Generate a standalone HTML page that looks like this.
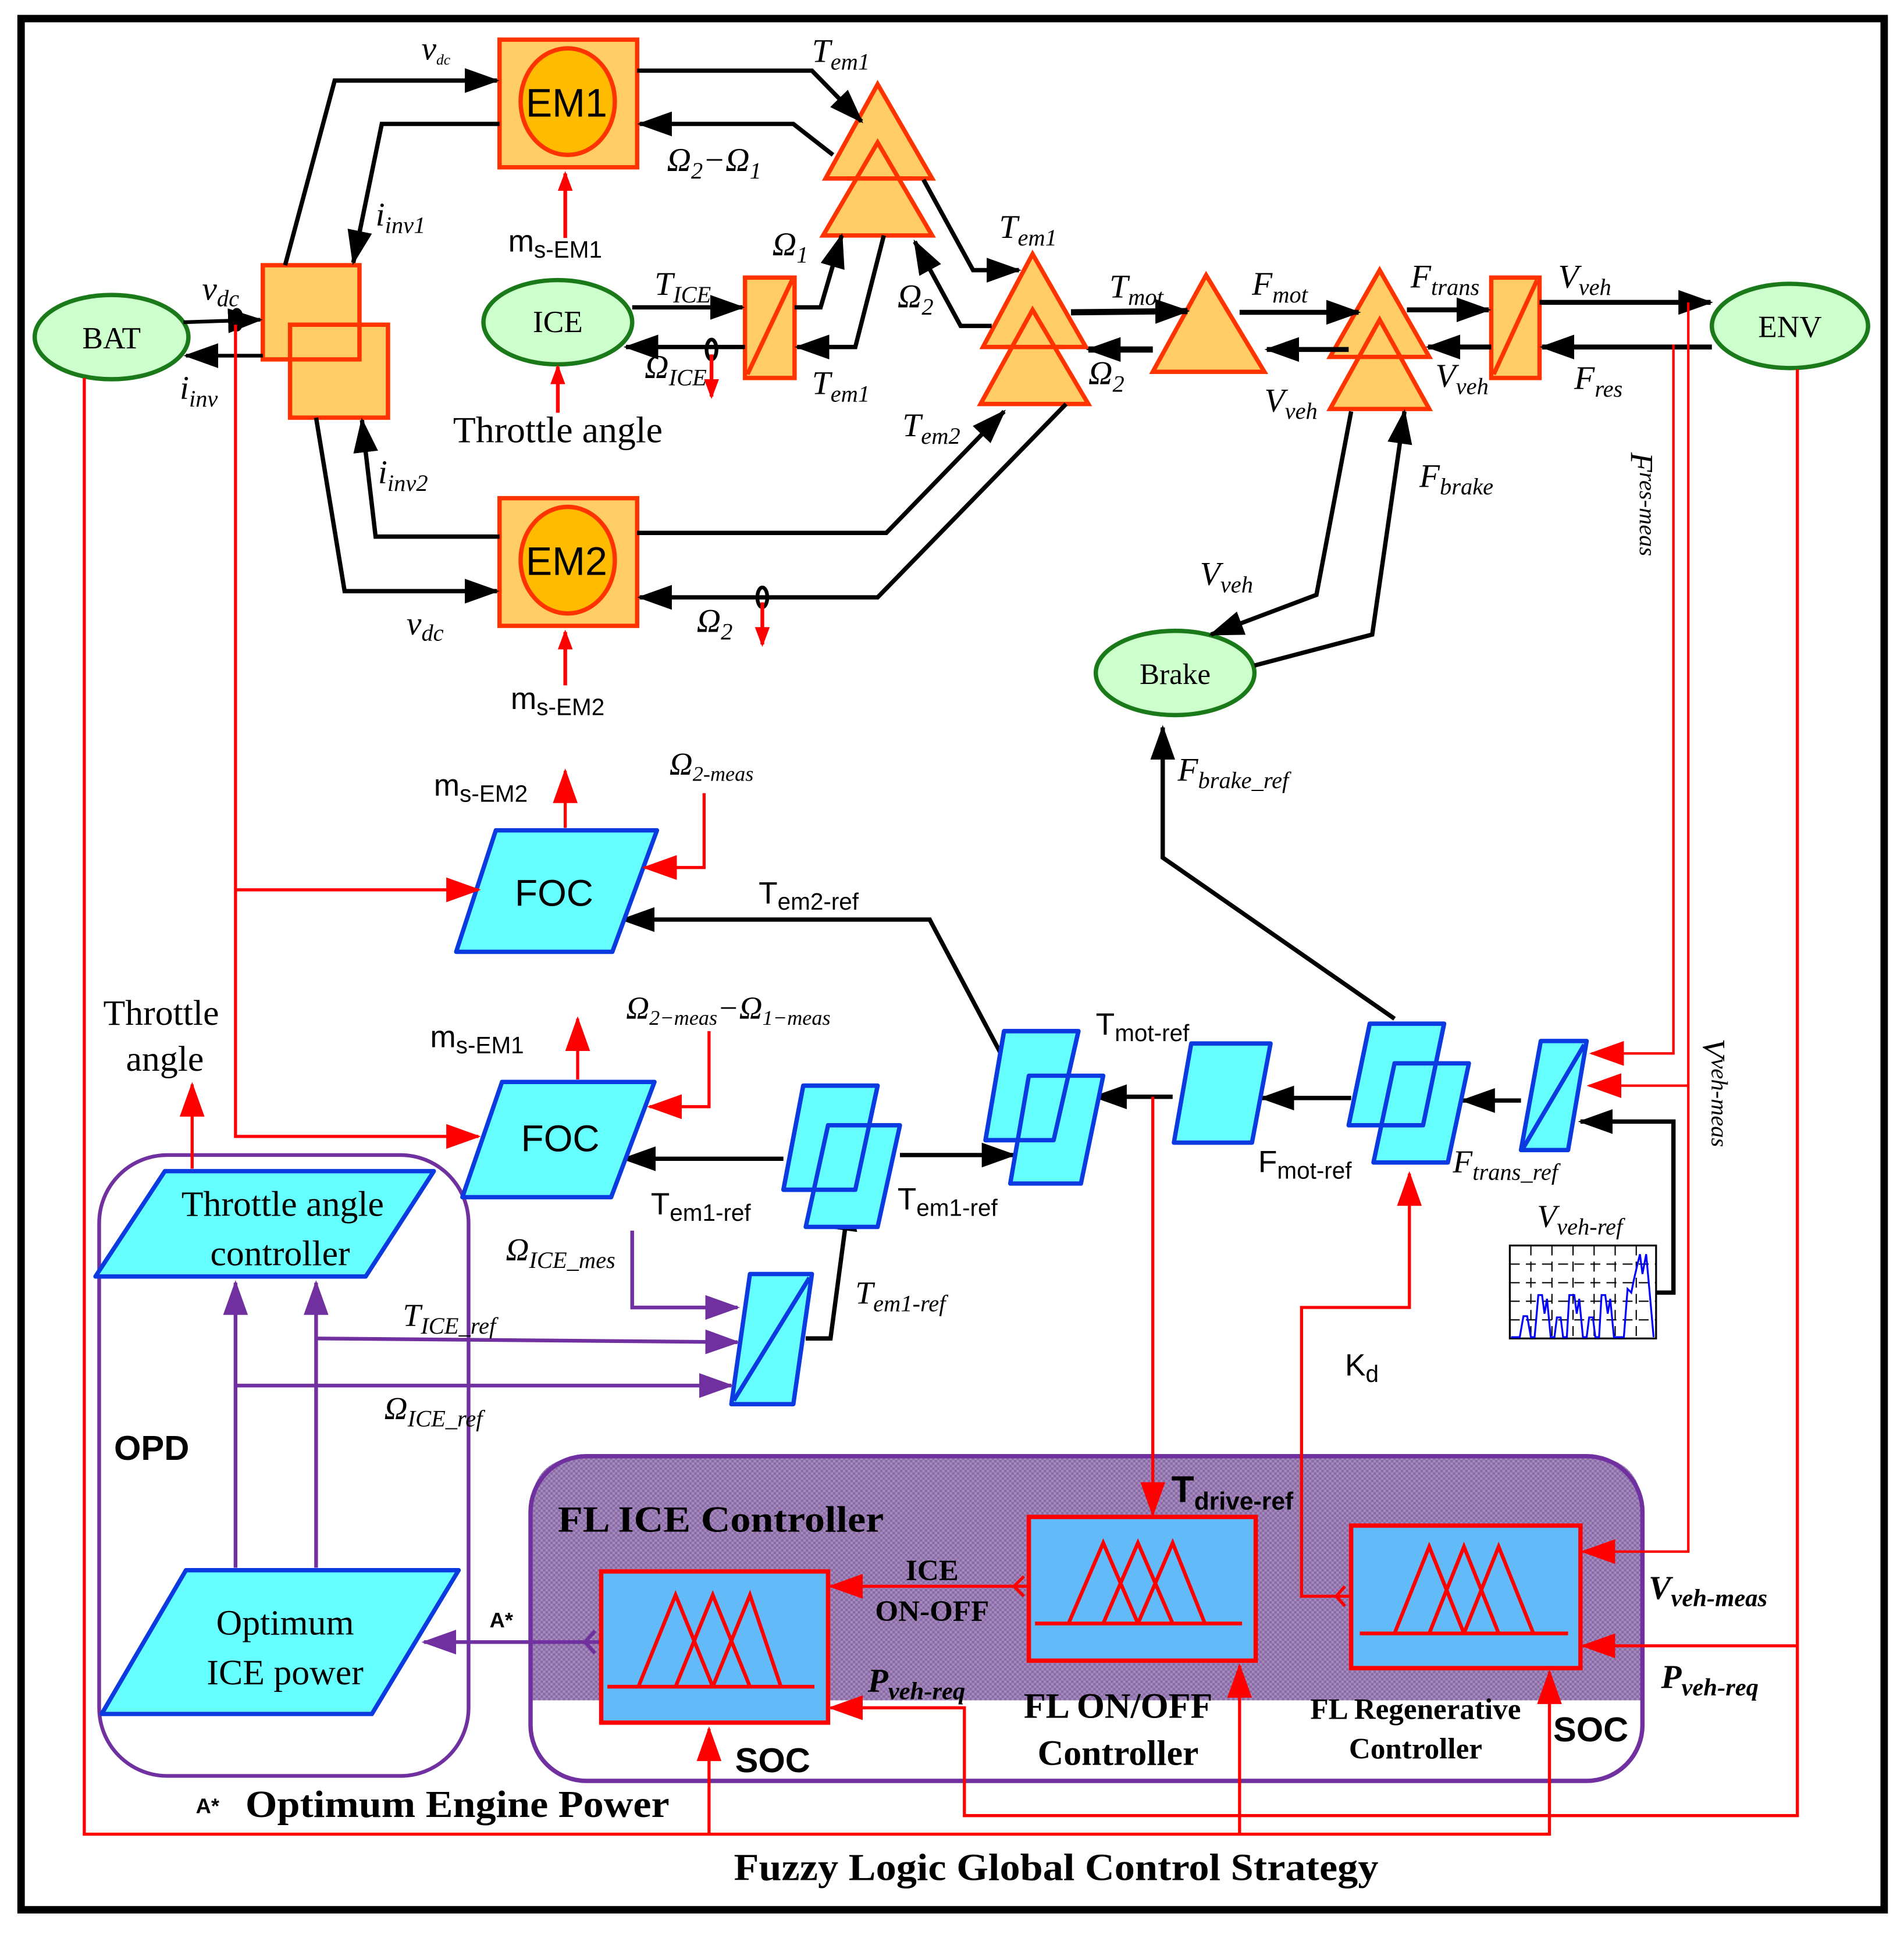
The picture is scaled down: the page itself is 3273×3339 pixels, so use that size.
<!DOCTYPE html>
<html><head><meta charset="utf-8"><style>
html,body{margin:0;padding:0;background:#fff}
svg{display:block}
.s{font-family:"Liberation Serif",serif}
.a{font-family:"Liberation Sans",sans-serif}
.i{font-family:"Liberation Serif",serif;font-style:italic}
</style></head><body>
<svg width="3273" height="3339" viewBox="0 0 1536 1567" preserveAspectRatio="none" xmlns="http://www.w3.org/2000/svg">
<defs>
<marker id="k" markerUnits="userSpaceOnUse" markerWidth="30" markerHeight="20" refX="26" refY="10" orient="auto"><path d="M0,0 L28,10 L0,20 Z" fill="#000"/></marker>
<marker id="r" markerUnits="userSpaceOnUse" markerWidth="30" markerHeight="20" refX="26" refY="10" orient="auto"><path d="M0,0 L28,10 L0,20 Z" fill="#f00"/></marker>
<marker id="rs" markerUnits="userSpaceOnUse" markerWidth="16" markerHeight="12" refX="14" refY="6" orient="auto"><path d="M0,0 L16,6 L0,12 Z" fill="#f00"/></marker>
<marker id="p" markerUnits="userSpaceOnUse" markerWidth="30" markerHeight="20" refX="26" refY="10" orient="auto"><path d="M0,0 L28,10 L0,20 Z" fill="#7030a0"/></marker>
<pattern id="h" width="4" height="4" patternUnits="userSpaceOnUse"><rect width="4" height="4" fill="#a58bbd"/><rect width="2" height="2" fill="#8a6aa5"/><rect x="2" y="2" width="2" height="2" fill="#8a6aa5"/></pattern>
</defs>
<rect x="17" y="15" width="1503" height="1526" fill="#fff" stroke="#000" stroke-width="6"/>

<path d="M473,1175 H1280 Q1325,1175 1325,1220 V1372 H428 V1220 Q428,1175 473,1175 Z" fill="url(#h)"/>
<rect x="428" y="1175" width="897" height="262" rx="45" fill="none" stroke="#7030a0" stroke-width="3.5"/>
<rect x="80" y="932" width="298" height="501" rx="55" fill="none" stroke="#7030a0" stroke-width="3"/>

<g fill="#ccffcc" stroke="#1a7a1a" stroke-width="3.5">
<ellipse cx="90" cy="272" rx="62" ry="34"/>
<ellipse cx="450" cy="260" rx="60" ry="34"/>
<ellipse cx="1444" cy="263" rx="63" ry="34"/>
<ellipse cx="948" cy="543" rx="64" ry="34"/>
</g>
<g class="s" font-size="25" text-anchor="middle">
<text x="90" y="281">BAT</text><text x="450" y="268">ICE</text><text x="1444" y="272">ENV</text><text x="948" y="552" font-size="24">Brake</text>
</g>

<g stroke="#ff3300" stroke-width="3.5">
<rect x="403" y="32" width="111" height="103" fill="#ffcc66"/>
<ellipse cx="458" cy="82" rx="38" ry="43" fill="#ffbb00"/>
<rect x="403" y="402" width="111" height="103" fill="#ffcc66"/>
<ellipse cx="458" cy="452" rx="38" ry="43" fill="#ffbb00"/>
<rect x="212" y="214" width="78" height="76" fill="#ffcc66"/>
<rect x="234" y="262" width="79" height="75" fill="#ffcc66"/>
<path d="M234,290 H290 V262" fill="none"/>
<rect x="601" y="224" width="40" height="81" fill="#ffcc66"/>
<line x1="603" y1="302" x2="639" y2="226"/>
<rect x="1203" y="224" width="39" height="81" fill="#ffcc66"/>
<line x1="1205" y1="302" x2="1240" y2="226"/>
<path d="M708,68 L752,144 L666,144 Z" fill="#ffcc66"/>
<path d="M708,115 L752,190 L664,190 Z" fill="#ffcc66"/>
<path d="M684,144 L735,144" fill="none"/>
<path d="M833,205 L876,280 L793,280 Z" fill="#ffcc66"/>
<path d="M833,250 L878,326 L791,326 Z" fill="#ffcc66"/>
<path d="M810,280 L858,280" fill="none"/>
<path d="M973,222 L1020,300 L930,300 Z" fill="#ffcc66"/>
<path d="M1113,218 L1153,288 L1073,288 Z" fill="#ffcc66"/>
<path d="M1113,258 L1153,330 L1073,330 Z" fill="#ffcc66"/>
<path d="M1091,288 L1135,288" fill="none"/>
</g>
<g class="a" font-size="32" text-anchor="middle"><text x="457" y="94">EM1</text><text x="457" y="464">EM2</text></g>

<g stroke="#000" stroke-width="3.5" fill="none">
<path d="M148,260 L210,258" marker-end="url(#k)" stroke-width="3"/>
<path d="M212,287 L150,287" marker-end="url(#k)" stroke-width="3"/>
<path d="M230,214 L270,65 L401,65" marker-end="url(#k)"/>
<path d="M403,100 L308,100 L285,212" marker-end="url(#k)"/>
<path d="M255,337 L278,477 L401,477" marker-end="url(#k)"/>
<path d="M403,433 L303,433 L292,339" marker-end="url(#k)"/>
<path d="M514,57 L655,57 L695,98" marker-end="url(#k)"/>
<path d="M672,125 L640,100 L516,100" marker-end="url(#k)"/>
<path d="M510,248 L599,248" marker-end="url(#k)"/>
<path d="M601,280 L505,280" marker-end="url(#k)"/>
<path d="M641,248 L662,248 L679,190" marker-end="url(#k)"/>
<path d="M713,190 L690,280 L643,280" marker-end="url(#k)"/>
<path d="M745,145 L785,218 L822,218" marker-end="url(#k)"/>
<path d="M800,263 L775,263 L738,195" marker-end="url(#k)"/>
<path d="M514,430 L715,430 L810,332" marker-end="url(#k)"/>
<path d="M860,326 L708,482 L516,482" marker-end="url(#k)"/>
<path d="M864,252 L958,251" marker-end="url(#k)" stroke-width="5"/>
<path d="M930,282 L878,282" marker-end="url(#k)" stroke-width="5"/>
<path d="M1000,252 L1096,252" marker-end="url(#k)" stroke-width="4"/>
<path d="M1088,282 L1022,282" marker-end="url(#k)" stroke-width="4"/>
<path d="M1135,250 L1201,250" marker-end="url(#k)" stroke-width="4"/>
<path d="M1203,280 L1152,280" marker-end="url(#k)" stroke-width="4"/>
<path d="M1242,244 L1380,244" marker-end="url(#k)" stroke-width="4"/>
<path d="M1381,280 L1244,280" marker-end="url(#k)" stroke-width="4"/>
<path d="M1090,332 L1062,480 L977,512" marker-end="url(#k)"/>
<path d="M1012,537 L1107,512 L1133,332" marker-end="url(#k)"/>
<ellipse cx="191" cy="258" rx="4" ry="8" stroke-width="3"/>
<ellipse cx="574" cy="282" rx="4" ry="8" stroke-width="3"/>
<ellipse cx="615" cy="482" rx="4" ry="8" stroke-width="3"/>
</g>
<g stroke="#f00" stroke-width="3" fill="none">
<path d="M456,192 L456,140" marker-end="url(#rs)"/>
<path d="M450,333 L450,296" marker-end="url(#rs)"/>
<path d="M456,553 L456,510" marker-end="url(#rs)"/>
<path d="M574,286 L574,320" marker-end="url(#rs)"/>
<path d="M615,486 L615,520" marker-end="url(#rs)"/>
</g>

<g class="i" font-size="27">
<text x="340" y="48">v<tspan font-size="12" dy="4">dc</tspan></text>
<text x="163" y="242">v<tspan font-size="19" dy="5">dc</tspan></text>
<text x="145" y="322">i<tspan font-size="19" dy="6">inv</tspan></text>
<text x="303" y="182">i<tspan font-size="19" dy="6">inv1</tspan></text>
<text x="305" y="390">i<tspan font-size="19" dy="6">inv2</tspan></text>
<text x="328" y="512">v<tspan font-size="19" dy="5">dc</tspan></text>
<text x="655" y="50">T<tspan font-size="19" dy="6">em1</tspan></text>
<text x="538" y="138">Ω<tspan font-size="19" dy="6">2</tspan><tspan dy="-6">−Ω</tspan><tspan font-size="19" dy="6">1</tspan></text>
<text x="623" y="206">Ω<tspan font-size="19" dy="6">1</tspan></text>
<text x="528" y="238">T<tspan font-size="19" dy="6">ICE</tspan></text>
<text x="520" y="305">Ω<tspan font-size="19" dy="6">ICE</tspan></text>
<text x="655" y="318">T<tspan font-size="19" dy="6">em1</tspan></text>
<text x="806" y="192">T<tspan font-size="19" dy="6">em1</tspan></text>
<text x="724" y="248">Ω<tspan font-size="19" dy="6">2</tspan></text>
<text x="728" y="352">T<tspan font-size="19" dy="6">em2</tspan></text>
<text x="562" y="510">Ω<tspan font-size="19" dy="6">2</tspan></text>
<text x="895" y="240">T<tspan font-size="19" dy="6">mot</tspan></text>
<text x="878" y="310">Ω<tspan font-size="19" dy="6">2</tspan></text>
<text x="1010" y="238">F<tspan font-size="19" dy="6">mot</tspan></text>
<text x="1020" y="332">V<tspan font-size="19" dy="6">veh</tspan></text>
<text x="1138" y="232">F<tspan font-size="19" dy="6">trans</tspan></text>
<text x="1158" y="312">V<tspan font-size="19" dy="6">veh</tspan></text>
<text x="1257" y="232">V<tspan font-size="19" dy="6">veh</tspan></text>
<text x="1270" y="314">F<tspan font-size="19" dy="6">res</tspan></text>
<text x="1145" y="393">F<tspan font-size="19" dy="6">brake</tspan></text>
<text x="968" y="472">V<tspan font-size="19" dy="6">veh</tspan></text>
<text x="950" y="630">F<tspan font-size="19" dy="6">brake_ref</tspan></text>
</g>
<g class="a" font-size="25">
<text x="410" y="203">m<tspan font-size="19" dy="5">s-EM1</tspan></text>
<text x="412" y="572">m<tspan font-size="19" dy="5">s-EM2</tspan></text>
<text x="350" y="642">m<tspan font-size="19" dy="5">s-EM2</tspan></text>
<text x="347" y="845">m<tspan font-size="19" dy="5">s-EM1</tspan></text>
<text x="612" y="729">T<tspan font-size="19" dy="5">em2-ref</tspan></text>
<text x="884" y="835">T<tspan font-size="19" dy="5">mot-ref</tspan></text>
<text x="1015" y="946">F<tspan font-size="19" dy="5">mot-ref</tspan></text>
<text x="525" y="980">T<tspan font-size="19" dy="5">em1-ref</tspan></text>
<text x="724" y="976">T<tspan font-size="19" dy="5">em1-ref</tspan></text>
<text x="1085" y="1110">K<tspan font-size="19" dy="5">d</tspan></text>
</g>
<text class="s" x="450" y="357" font-size="30" text-anchor="middle">Throttle angle</text>

<g stroke="#000" stroke-width="3.5" fill="none">
<path d="M810,855 L750,742 L502,742" marker-end="url(#k)"/>
<path d="M1125,822 L938,692 L938,587" marker-end="url(#k)"/>
<path d="M1227,888 L1180,888" marker-end="url(#k)"/>
<path d="M1090,886 L1018,886" marker-end="url(#k)"/>
<path d="M946,885 L883,885" marker-end="url(#k)"/>
<path d="M632,935 L503,935" marker-end="url(#k)"/>
<path d="M726,932 L818,932" marker-end="url(#k)"/>
<path d="M650,1080 L670,1080 L685,967" marker-end="url(#k)"/>
<path d="M1336,1043 L1350,1043 L1350,905 L1275,905" marker-end="url(#k)"/>
</g>

<g fill="#66ffff" stroke="#0a3ae0" stroke-width="3.5" stroke-linejoin="round">
<path d="M400,670 L530,670 L494,768 L368,768 Z"/>
<path d="M405,873 L528,873 L493,966 L373,966 Z"/>
<path d="M810,832 L870,832 L850,920 L795,920 Z"/>
<path d="M830,868 L890,868 L872,955 L815,955 Z"/>
<path d="M810,832 L870,832 L850,920 L795,920 Z" fill="none"/>
<path d="M961,842 L1025,842 L1010,922 L947,922 Z"/>
<path d="M1105,826 L1165,826 L1148,908 L1088,908 Z"/>
<path d="M1125,858 L1185,858 L1168,938 L1108,938 Z"/>
<path d="M1105,826 L1165,826 L1148,908 L1088,908 Z" fill="none"/>
<path d="M1243,840 L1280,840 L1265,928 L1227,928 Z"/>
<path d="M1229,926 L1278,843" fill="none"/>
<path d="M648,876 L708,876 L690,960 L632,960 Z"/>
<path d="M668,908 L726,908 L708,990 L650,990 Z"/>
<path d="M648,876 L708,876 L690,960 L632,960 Z" fill="none"/>
<path d="M605,1028 L655,1028 L640,1133 L590,1133 Z"/>
<path d="M592,1130 L653,1031" fill="none"/>
<path d="M133,945 L350,945 L295,1030 L77,1030 Z"/>
<path d="M150,1267 L370,1267 L300,1383 L82,1383 Z"/>
</g>
<g class="a" font-size="30" text-anchor="middle"><text x="447" y="731">FOC</text><text x="452" y="929">FOC</text></g>
<g class="s" font-size="29" text-anchor="middle">
<text x="228" y="981">Throttle angle</text><text x="226" y="1021">controller</text>
<text x="230" y="1319">Optimum</text><text x="230" y="1359">ICE power</text>
<text x="130" y="827">Throttle</text><text x="133" y="864">angle</text>
</g>

<g stroke="#7030a0" stroke-width="3" fill="none">
<path d="M510,993 L510,1055 L595,1055" marker-end="url(#p)"/>
<path d="M255,1080 L595,1083" marker-end="url(#p)"/>
<path d="M190,1118 L590,1118" marker-end="url(#p)"/>
<path d="M190,1265 L190,1035" marker-end="url(#p)"/>
<path d="M255,1265 L255,1035" marker-end="url(#p)"/>
<path d="M485,1325 L342,1325" marker-end="url(#p)"/>
<path d="M480,1316 L472,1325 L480,1334"/>
</g>
<g class="i" font-size="26">
<text x="408" y="1017">Ω<tspan font-size="19" dy="6">ICE_mes</tspan></text>
<text x="325" y="1070">T<tspan font-size="19" dy="6">ICE_ref</tspan></text>
<text x="310" y="1145">Ω<tspan font-size="19" dy="6">ICE_ref</tspan></text>
<text x="690" y="1052">T<tspan font-size="19" dy="6">em1-ref</tspan></text>
<text x="540" y="625">Ω<tspan font-size="17" dy="5">2-meas</tspan></text>
<text x="505" y="822">Ω<tspan font-size="17" dy="5">2−meas</tspan><tspan dy="-5">−Ω</tspan><tspan font-size="17" dy="5">1−meas</tspan></text>
<text x="1240" y="990">V<tspan font-size="19" dy="6">veh-ref</tspan></text>
<text x="1172" y="946">F<tspan font-size="19" dy="6">trans_ref</tspan></text>
</g>
<g class="i" font-size="26">
<text transform="translate(1316,365) rotate(90)">F<tspan font-size="19" dy="-7">res-meas</tspan></text>
<text transform="translate(1374,838) rotate(90)">V<tspan font-size="19" dy="-7">veh-meas</tspan></text>
</g>

<g>
<rect x="1218" y="1005" width="118" height="75" fill="#fff" stroke="#000" stroke-width="1.5"/>
<g stroke="#000" stroke-width="1" stroke-dasharray="8,5">
<line x1="1218" y1="1020" x2="1336" y2="1020"/><line x1="1218" y1="1035" x2="1336" y2="1035"/><line x1="1218" y1="1050" x2="1336" y2="1050"/><line x1="1218" y1="1065" x2="1336" y2="1065"/>
<line x1="1235" y1="1005" x2="1235" y2="1080"/><line x1="1252" y1="1005" x2="1252" y2="1080"/><line x1="1269" y1="1005" x2="1269" y2="1080"/><line x1="1286" y1="1005" x2="1286" y2="1080"/><line x1="1303" y1="1005" x2="1303" y2="1080"/><line x1="1320" y1="1005" x2="1320" y2="1080"/>
</g>
<path d="M1219,1079 L1226,1079 L1229,1062 L1232,1062 L1235,1079 L1238,1079 L1241,1045 L1244,1045 L1246,1060 L1248,1048 L1251,1079 L1254,1079 L1256,1063 L1259,1063 L1261,1079 L1264,1079 L1266,1045 L1270,1045 L1272,1060 L1274,1048 L1277,1079 L1280,1079 L1282,1063 L1285,1063 L1287,1079 L1290,1079 L1292,1045 L1295,1045 L1297,1060 L1299,1048 L1302,1079 L1310,1079 L1313,1040 L1316,1043 L1318,1033 L1321,1020 L1323,1012 L1325,1028 L1328,1012 L1331,1045 L1334,1079" fill="none" stroke="#0000ff" stroke-width="1.5"/>
</g>

<g stroke="#f00" stroke-width="2.5" fill="none">
<path d="M190,262 L190,917 L386,917" marker-end="url(#r)"/>
<path d="M190,718 L386,718" marker-end="url(#r)"/>
<path d="M568,640 L568,700 L520,700" marker-end="url(#r)"/>
<path d="M572,832 L572,893 L524,893" marker-end="url(#r)"/>
<path d="M456,668 L456,622" marker-end="url(#r)"/>
<path d="M466,871 L466,822" marker-end="url(#r)"/>
<path d="M155,943 L155,875" marker-end="url(#r)"/>
<path d="M930,885 L930,1222" marker-end="url(#r)"/>
<path d="M1090,1288 L1050,1288 L1050,1055 L1137,1055 L1137,947" marker-end="url(#r)"/>
<path d="M1085,1280 L1078,1288 L1085,1296"/>
<path d="M1350,278 L1350,850 L1284,850" marker-end="url(#r)" stroke-width="2"/>
<path d="M1362,244 L1362,1252 L1277,1252" marker-end="url(#r)" stroke-width="2"/>
<path d="M1362,876 L1282,876" marker-end="url(#r)" stroke-width="2"/>
<path d="M1450,298 L1450,1465 L778,1465 L778,1378 L670,1378" marker-end="url(#r)"/>
<path d="M1450,1328 L1277,1328" marker-end="url(#r)"/>
<path d="M68,305 L68,1480 L1250,1480 L1250,1349" marker-end="url(#r)"/>
<path d="M572,1480 L572,1395" marker-end="url(#r)"/>
<path d="M1000,1480 L1000,1344" marker-end="url(#r)"/>
<path d="M830,1280 L670,1280" marker-end="url(#r)"/>
<path d="M826,1272 L818,1280 L826,1288"/>
</g>

<g stroke="#f00" stroke-width="3.5">
<rect x="485" y="1268" width="183" height="122" fill="#63baf8"/>
<rect x="830" y="1224" width="183" height="116" fill="#63baf8"/>
<rect x="1090" y="1231" width="185" height="115" fill="#63baf8"/>
</g>
<g stroke="#f00" stroke-width="3" fill="none">
<path d="M490,1361 H657 M515,1361 L545,1287 L575,1361 M545,1361 L575,1287 L605,1361 M575,1361 L605,1287 L630,1361"/>
<path d="M835,1310 H1002 M862,1310 L890,1245 L918,1310 M890,1310 L918,1245 L946,1310 M918,1310 L946,1245 L972,1310"/>
<path d="M1097,1318 H1265 M1125,1318 L1153,1248 L1181,1318 M1153,1318 L1181,1248 L1209,1318 M1181,1318 L1209,1248 L1237,1318"/>
</g>

<g class="s" font-weight="bold">
<text x="450" y="1236" font-size="30" textLength="263" lengthAdjust="spacingAndGlyphs">FL ICE Controller</text>
<text x="752" y="1275" font-size="24" text-anchor="middle">ICE</text>
<text x="752" y="1308" font-size="24" text-anchor="middle">ON-OFF</text>
<text x="902" y="1386" font-size="29" text-anchor="middle">FL ON/OFF</text>
<text x="902" y="1424" font-size="29" text-anchor="middle">Controller</text>
<text x="1142" y="1387" font-size="24" text-anchor="middle">FL Regenerative</text>
<text x="1142" y="1419" font-size="24" text-anchor="middle">Controller</text>
<text x="198" y="1466" font-size="31" textLength="342" lengthAdjust="spacingAndGlyphs">Optimum Engine Power</text>
<text x="592" y="1517" font-size="31" textLength="520" lengthAdjust="spacingAndGlyphs">Fuzzy Logic Global Control Strategy</text>
<text x="700" y="1365" font-size="27" font-style="italic">P<tspan font-size="20" dy="6">veh-req</tspan></text>
<text x="1340" y="1362" font-size="27" font-style="italic">P<tspan font-size="20" dy="6">veh-req</tspan></text>
<text x="1330" y="1290" font-size="27" font-style="italic">V<tspan font-size="20" dy="6">veh-meas</tspan></text>
</g>
<g class="a" font-weight="bold">
<text x="92" y="1178" font-size="28">OPD</text>
<text x="593" y="1430" font-size="28">SOC</text>
<text x="1253" y="1405" font-size="28">SOC</text>
<text x="395" y="1313" font-size="17">A*</text>
<text x="158" y="1463" font-size="17">A*</text>
<text x="945" y="1212" font-size="30">T<tspan font-size="20" dy="6">drive-ref</tspan></text>
</g>
</svg>
</body></html>
